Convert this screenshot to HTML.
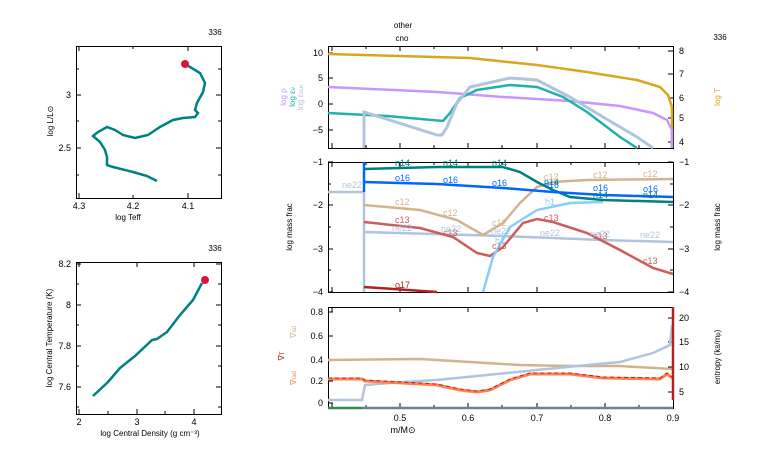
<!DOCTYPE html>
<html><head><meta charset="utf-8"><style>
html,body{margin:0;padding:0;background:#fff;}
svg{display:block;font-family:"Liberation Sans",sans-serif;}
text{font-size:9px;}
</style></head><body>
<svg width="766" height="460" viewBox="0 0 766 460" xmlns="http://www.w3.org/2000/svg">
<rect width="766" height="460" fill="#fff"/>
<g fill="none" stroke="#000" stroke-width="1">
<rect x="76.5" y="46.5" width="145" height="152"/>
<rect x="76.5" y="262.5" width="145" height="152"/>
<rect x="328.5" y="46.5" width="345" height="102"/>
<rect x="328.5" y="162.5" width="345" height="130"/>
<rect x="328.5" y="307.5" width="345" height="101"/>
</g>
<!-- ticks -->
<g stroke="#000" stroke-width="1">
<path d="M79,198v-5M133,198v-3M188,198v-5M79,46v5M133,46v3M188,46v5M76,95h5M76,148h5M76,121h3M76,69h3M76,175h3M221,95h-5M221,148h-5M221,121h-3M221,69h-3M221,175h-3"/>
<path d="M79,414v-5M137,414v-5M194,414v-5M108,414v-3M165,414v-3M79,262v5M137,262v5M194,262v5M76,264h5M76,305h5M76,346h5M76,387h5M76,284h3M76,325h3M76,366h3M76,407h3M221,264h-5M221,305h-5M221,346h-5M221,387h-5M221,284h-3M221,325h-3M221,366h-3M221,407h-3"/>
<path d="M332,148v-5M400,148v-5M468,148v-5M537,148v-5M605,148v-5M673,148v-5M332,46v5M400,46v5M468,46v5M537,46v5M605,46v5M366,46v3M434,46v3M502,46v3M571,46v3M639,46v3M366,148v-3M434,148v-3M502,148v-3M571,148v-3M639,148v-3"/>
<path d="M332,292v-5M400,292v-5M468,292v-5M537,292v-5M605,292v-5M332,162v5M400,162v5M468,162v5M537,162v5M605,162v5M366,162v3M434,162v3M502,162v3M571,162v3M639,162v3"/>
<path d="M332,408v-5M400,408v-5M468,408v-5M537,408v-5M605,408v-5M332,307v5M400,307v5M468,307v5M537,307v5M605,307v5M366,408v-3M434,408v-3M502,408v-3M571,408v-3M639,408v-3"/>
<path d="M328,53h5M328,78h5M328,104h5M328,130h5M673,51h-5M673,74h-5M673,98h-5M673,118h-5M673,142h-5"/>
<path d="M328,162h5M328,205h5M328,249h5M328,292h5M328,184h3M328,227h3M328,270h3M673,162h-5M673,205h-5M673,249h-5M673,292h-5M673,184h-3M673,227h-3M673,270h-3"/>
<path d="M328,312h5M328,336h5M328,360h5M328,381h5M328,403h5M673,318h-5M673,342h-5M673,367h-5M673,392h-5"/>
</g>
<!-- HR -->
<polyline fill="none" stroke="#008080" stroke-width="2.5" points="185,64 200,73 205,83 203,92 197,103 195,110 198,113 195,117 183,118 173,120 160,127 148,135 135,138 123,135 115,130 107,127 98,132 93,136 100,142 105,150 107,157 107,165 113,167 133,172 147,176 157,181"/>
<circle cx="185" cy="64" r="4" fill="#dc143c"/>
<polyline fill="none" stroke="#008080" stroke-width="2.5" points="93,396 108,382 120,368 135,356 152,340 157,339 167,332 180,315 193,300 202,283"/>
<circle cx="205" cy="280" r="4" fill="#dc143c"/>
<g font-size="8">
<text x="215" y="35" text-anchor="middle" style="font-size:8px">336</text>
<text x="215" y="251" text-anchor="middle" style="font-size:8px">336</text>
<text x="79" y="209" text-anchor="middle">4.3</text><text x="133" y="209" text-anchor="middle">4.2</text><text x="188" y="209" text-anchor="middle">4.1</text>
<text x="128" y="220" text-anchor="middle" style="font-size:8px">log Teff</text>
<text x="71" y="98" text-anchor="end">3</text><text x="71" y="151" text-anchor="end">2.5</text>
<text transform="translate(53,121) rotate(-90)" text-anchor="middle" style="font-size:8px">log L/L⊙</text>
<text x="79" y="425" text-anchor="middle">2</text><text x="137" y="425" text-anchor="middle">3</text><text x="194" y="425" text-anchor="middle">4</text>
<text x="150" y="436" text-anchor="middle" style="font-size:8px">log Central Density (g cm⁻³)</text>
<text x="71" y="267" text-anchor="end">8.2</text><text x="71" y="308" text-anchor="end">8</text><text x="71" y="349" text-anchor="end">7.8</text><text x="71" y="390" text-anchor="end">7.6</text>
<text transform="translate(52,338) rotate(-90)" text-anchor="middle" style="font-size:8px">log Central Temperature (K)</text>
</g>
<!-- titles -->
<text x="403" y="28" text-anchor="middle" style="font-size:8px">other</text>
<text x="402" y="41" text-anchor="middle" style="font-size:8px">cno</text>
<text x="720" y="40" text-anchor="middle" style="font-size:8px">336</text>
<!-- top panel -->
<g fill="none" stroke-width="2.5">
<polyline stroke="#daa520" points="328,54 400,56 470,58 537,65 587,72 637,80 660,87 668,95 672,107 672,148"/>
<polyline stroke="#c896ff" points="328,87 437,92 503,97 570,101 620,106 653,113 667,120 672,130 672,148"/>
<polyline stroke="#20b2aa" points="328,113 387,116 443,121 450,113 460,98 477,90 510,85 537,87 563,97 587,112 620,137 637,148"/>
<polyline stroke="#b0c4de" stroke-width="3" points="364,148 364,112 437,135 442,135 447,127 457,103 470,87 510,78 537,80 570,97 603,117 637,137 653,148"/>
</g>
<g style="font-size:9px">
<text x="323" y="56" text-anchor="end">10</text><text x="323" y="81" text-anchor="end">5</text><text x="323" y="107" text-anchor="end">0</text><text x="323" y="133" text-anchor="end">−5</text>
<text x="679" y="54">8</text><text x="679" y="77">7</text><text x="679" y="101">6</text><text x="679" y="121">5</text><text x="679" y="145">4</text>
</g>
<text transform="translate(286,97) rotate(-90)" text-anchor="middle" fill="#c896ff" style="font-size:8px">log ρ</text>
<text transform="translate(295,97) rotate(-90)" text-anchor="middle" fill="#20b2aa" style="font-size:8px">log ε<tspan style="font-size:6px">ν</tspan></text>
<text transform="translate(303,97) rotate(-90)" text-anchor="middle" fill="#b0c4de" style="font-size:8px">log ε<tspan style="font-size:6px">nuc</tspan></text>
<text transform="translate(720,97) rotate(-90)" text-anchor="middle" fill="#daa520" style="font-size:8px">log T</text>
<!-- middle -->
<g fill="none" stroke-width="2.5">
<polyline stroke="#b0c4de" points="328,192 364,192"/>
<polyline stroke="#b0c4de" points="364,192 364,292"/>
<polyline stroke="#b0c4de" points="364,232 503,236 603,240 673,242"/>
<polyline stroke="#d2b48c" points="364,205 420,210 457,220 483,235 503,223 520,203 537,187 553,182 587,180 673,179"/>
<polyline stroke="#cd5c5c" points="364,222 420,228 453,237 477,253 490,256 503,247 523,223 537,219 553,222 587,233 620,250 653,268 673,274"/>
<polyline stroke="#87cefa" points="483,292 493,257 510,227 537,210 570,203 603,202"/>
<polyline stroke="#008080" points="364,169 437,167 503,167 520,172 537,182 553,190 570,197 603,200 673,202"/>
<polyline stroke="#0066ff" points="364,182 437,184 503,188 553,192 603,195 673,197"/>
<polyline stroke="#0066ff" points="364,162 364,192"/>
<polyline stroke="#b22222" points="364,287 437,292"/>
</g>
<g style="font-size:9px">
<text x="323" y="165" text-anchor="end">−1</text><text x="323" y="208" text-anchor="end">−2</text><text x="323" y="252" text-anchor="end">−3</text><text x="323" y="295" text-anchor="end">−4</text>
<text x="679" y="165">−1</text><text x="679" y="208">−2</text><text x="679" y="252">−3</text><text x="679" y="295">−4</text>
</g>
<text transform="translate(292,227) rotate(-90)" text-anchor="middle" style="font-size:8px">log mass frac</text>
<text transform="translate(720,227) rotate(-90)" text-anchor="middle" style="font-size:8px">log mass frac</text>
<g style="font-size:8px">
<g fill="#008080"><text x="395" y="166">n14</text><text x="443" y="166">n14</text><text x="492" y="166">n14</text><text x="544" y="185">n14</text><text x="593" y="198">n14</text><text x="643" y="198">n14</text></g>
<g fill="#0066ff"><text x="395" y="181">o16</text><text x="443" y="183">o16</text><text x="492" y="186">o16</text><text x="544" y="188">o16</text><text x="593" y="191">o16</text><text x="643" y="192">o16</text></g>
<g fill="#d2b48c"><text x="395" y="205">c12</text><text x="443" y="216">c12</text><text x="492" y="226">c12</text><text x="544" y="180">c12</text><text x="593" y="178">c12</text><text x="643" y="177">c12</text></g>
<g fill="#cd5c5c"><text x="395" y="223">c13</text><text x="443" y="236">c13</text><text x="492" y="249">c13</text><text x="544" y="221">c13</text><text x="593" y="239">c13</text><text x="643" y="264">c13</text></g>
<g fill="#b0c4de"><text x="342" y="188">ne22</text><text x="392" y="231">ne22</text><text x="441" y="232">ne22</text><text x="491" y="234">ne22</text><text x="540" y="236">ne22</text><text x="590" y="237">ne22</text><text x="640" y="238">ne22</text></g>
<text x="545" y="205" fill="#87cefa">h1</text><text x="495" y="244" fill="#87cefa">h1</text>
<text x="395" y="288" fill="#b22222">o17</text>
</g>
<!-- bottom -->
<g fill="none" stroke-width="2.5">
<polyline stroke="#708090" points="362,408 673,408"/>
<polyline stroke="#2e8b57" points="328,408 362,408"/>
<polyline stroke="#d2b48c" points="328,360 420,359 470,362 520,365 570,366 620,366 637,367 673,369"/>
<polyline stroke="#b0c4de" points="328,400 362,400 365,385 403,382 437,380 487,375 537,370 587,365 620,362 653,353 670,345 672,325"/>
<polyline stroke="#ff7f50" stroke-width="3" points="328,379 362,379 365,381 403,383 437,385 460,390 477,392 490,390 510,380 530,374 570,374 603,378 660,379 667,374 672,378"/>
<polyline stroke="#b22222" stroke-width="1" stroke-dasharray="4,3" points="328,378 362,378 365,380 403,382 437,384 460,389 477,391 490,389 510,379 530,373 570,373 603,377 660,378 667,373 672,377"/>
<polyline stroke="#b22222" points="673,307 673,400"/>
</g>
<g style="font-size:9px">
<text x="323" y="315" text-anchor="end">0.8</text><text x="323" y="339" text-anchor="end">0.6</text><text x="323" y="363" text-anchor="end">0.4</text><text x="323" y="384" text-anchor="end">0.2</text><text x="323" y="406" text-anchor="end">0</text>
<text x="679" y="321">20</text><text x="679" y="345">15</text><text x="679" y="370">10</text><text x="679" y="395">5</text>
<text x="400" y="421" text-anchor="middle">0.5</text><text x="468" y="421" text-anchor="middle">0.6</text><text x="537" y="421" text-anchor="middle">0.7</text><text x="605" y="421" text-anchor="middle">0.8</text><text x="673" y="421" text-anchor="middle">0.9</text>
</g>
<text x="403" y="433" text-anchor="middle" style="font-size:9px">m/M⊙</text>
<text transform="translate(296,332) rotate(-90)" text-anchor="middle" fill="#d2b48c" style="font-size:8px">∇<tspan style="font-size:6px">ad</tspan></text>
<text transform="translate(284,356) rotate(-90)" text-anchor="middle" fill="#b22222" style="font-size:8px">∇<tspan style="font-size:6px">T</tspan></text>
<text transform="translate(296,378) rotate(-90)" text-anchor="middle" fill="#ff7f50" style="font-size:8px">∇<tspan style="font-size:6px">rad</tspan></text>
<text transform="translate(720,357) rotate(-90)" text-anchor="middle" style="font-size:8px">entropy (k<tspan style="font-size:6px">B</tspan>/m<tspan style="font-size:6px">p</tspan>)</text>
</svg>
</body></html>
